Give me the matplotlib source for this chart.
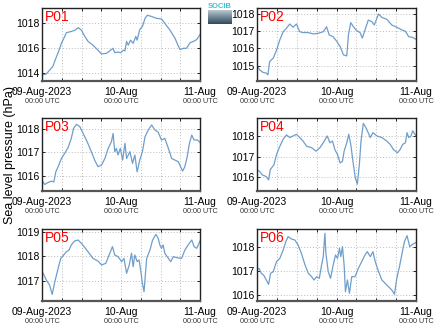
import numpy as np
import pandas as pd
import matplotlib
matplotlib.use("Agg")
import matplotlib.pyplot as plt
import matplotlib.dates as mdates

plt.rcParams['font.family'] = ['Liberation Sans', 'DejaVu Sans']

start = pd.Timestamp("2023-08-09 00:00")
end = pd.Timestamp("2023-08-11 00:00")

names = ["P01", "P02", "P03", "P04", "P05", "P06"]

p01_h = [0, 1.3, 2.3, 3.3, 4.2, 4.9, 5.9, 6.9, 7.4, 8.9, 10.0, 11.0, 12.0, 13.0, 14.0, 15.5, 17.0, 18.1, 19.6, 20.6,
         21.6, 22.1, 23.1, 23.9, 24.7, 25.2, 25.7, 26.2, 26.9, 27.7, 28.5, 28.9, 29.7, 30.5, 31.3, 32.0, 33.3, 34.8,
         36.3, 37.3, 38.9, 40.4, 41.9, 42.9, 43.9, 45.0, 46.0, 47.0, 48.0]
p01_v = [1013.81, 1013.89, 1014.2, 1014.5, 1015.15, 1015.6, 1016.35, 1016.9, 1017.2, 1017.3, 1017.4, 1017.6, 1017.4,
         1016.9, 1016.5, 1016.2, 1015.8, 1015.5, 1015.55, 1015.75, 1015.95, 1015.6, 1015.65, 1015.6, 1015.8, 1015.75,
         1016.5, 1016.2, 1016.6, 1016.35, 1016.9, 1016.6, 1017.45, 1017.7, 1018.35, 1018.6, 1018.5, 1018.35, 1018.3,
         1017.95, 1017.4, 1016.75, 1015.85, 1015.95, 1015.95, 1016.4, 1016.5, 1016.65, 1017.05]

p02_h = [0, 0.8, 1.8, 2.8, 3.3, 3.8, 4.9, 5.9, 6.9, 7.9, 8.9, 9.9, 10.9, 11.9, 12.9, 13.9, 15.5, 17.0, 18.5, 20.0,
         21.0, 21.8, 23.0, 24.1, 25.1, 26.1, 27.1, 27.6, 28.3, 29.1, 30.1, 31.1, 31.8, 32.6, 33.6, 34.7, 35.4, 36.7,
         37.7, 39.2, 40.7, 42.2, 43.8, 44.8, 45.8, 46.8, 48.0]
p02_v = [1015.0, 1014.75, 1014.6, 1014.56, 1014.46, 1015.23, 1015.43, 1015.9, 1016.5, 1016.97, 1017.17, 1017.42,
         1017.23, 1017.42, 1016.97, 1016.92, 1016.92, 1016.84, 1016.88, 1016.97, 1017.26, 1016.78, 1016.68, 1016.4,
         1016.1, 1015.62, 1015.56, 1016.78, 1017.5, 1017.26, 1017.03, 1016.92, 1016.6, 1017.07, 1017.65, 1017.55,
         1017.36, 1018.0, 1017.8, 1017.69, 1017.36, 1017.23, 1017.07, 1017.0, 1016.68, 1016.65, 1016.53]

p03_h = [0, 0.8, 1.8, 2.8, 3.6, 4.2, 4.9, 5.9, 6.9, 7.9, 8.9, 9.6, 10.5, 11.5, 12.5, 13.7, 15.0, 16.0, 17.0, 18.1,
         19.1, 20.1, 21.1, 21.6, 22.1, 22.6, 23.1, 23.8, 24.5, 25.2, 25.7, 26.7, 27.5, 28.2, 28.9, 29.7, 30.5, 31.3,
         32.3, 33.3, 34.3, 35.3, 36.3, 37.3, 38.4, 39.4, 40.4, 41.4, 42.1, 42.7, 43.4, 44.1, 44.8, 45.5, 46.2, 47.2,
         48.0]
p03_v = [1015.81, 1015.63, 1015.71, 1015.77, 1015.74, 1016.17, 1016.39, 1016.74, 1016.96, 1017.2, 1017.6, 1018.03,
         1018.2, 1018.1, 1017.81, 1017.46, 1017.03, 1016.67, 1016.39, 1016.46, 1016.74, 1017.17, 1017.46, 1017.81,
         1017.03, 1017.17, 1016.89, 1017.17, 1016.67, 1017.39, 1016.74, 1017.03, 1016.53, 1016.89, 1016.17, 1016.67,
         1017.03, 1017.67, 1017.96, 1018.17, 1017.96, 1017.86, 1017.53, 1017.6, 1017.17, 1016.74, 1016.67, 1016.6,
         1016.39, 1016.2, 1016.39, 1016.81, 1017.39, 1017.74, 1017.53, 1017.53, 1017.43]

p04_h = [0, 0.8, 1.6, 2.8, 3.5, 4.0, 5.1, 5.9, 6.9, 7.9, 8.9, 9.9, 10.9, 11.9, 12.9, 13.9, 15.0, 16.5, 17.8, 19.0,
         20.0, 21.2, 22.0, 22.8, 23.5, 24.3, 25.1, 25.8, 26.3, 27.1, 27.7, 28.3, 29.1, 29.7, 30.3, 30.9, 31.4, 32.1,
         33.1, 34.2, 35.0, 36.2, 37.7, 39.2, 40.2, 41.2, 42.4, 43.2, 44.0, 44.8, 45.3, 45.8, 46.5, 47.0, 48.0]
p04_v = [1016.36, 1016.28, 1016.11, 1016.03, 1015.87, 1016.36, 1016.6, 1017.1, 1017.5, 1017.84, 1018.05, 1017.92,
         1018.0, 1018.08, 1017.92, 1017.75, 1017.5, 1017.43, 1017.26, 1017.43, 1017.67, 1018.0, 1017.67, 1017.75,
         1017.34, 1017.1, 1016.69, 1016.77, 1017.26, 1017.67, 1018.08, 1017.59, 1016.61, 1015.95, 1015.66, 1016.61,
         1017.75, 1018.61, 1018.33, 1017.92, 1018.16, 1018.0, 1017.92, 1017.75, 1017.59, 1017.34, 1017.18, 1017.34,
         1017.59, 1017.67, 1018.16, 1017.92, 1018.0, 1018.25, 1018.0]

p05_h = [0, 0.6, 1.3, 2.3, 3.1, 3.9, 4.9, 5.7, 6.6, 7.4, 8.2, 8.9, 9.9, 11.0, 12.0, 13.0, 14.0, 15.5, 17.0, 18.1,
         19.4, 20.4, 21.4, 22.1, 23.1, 24.2, 24.9, 25.7, 26.5, 27.2, 27.7, 28.2, 28.9, 29.5, 30.1, 30.5, 31.0, 31.4,
         31.8, 32.8, 33.6, 34.6, 35.3, 35.8, 36.3, 36.8, 37.3, 38.4, 39.1, 39.9, 40.9, 42.4, 43.4, 44.4, 45.5, 46.2,
         47.0, 48.0]
p05_v = [1017.37, 1017.23, 1017.03, 1016.82, 1016.44, 1016.96, 1017.5, 1017.91, 1018.05, 1018.18, 1018.25, 1018.46,
         1018.62, 1018.66, 1018.52, 1018.35, 1018.18, 1017.91, 1017.8, 1017.64, 1017.71, 1018.05, 1018.39, 1018.05,
         1017.98, 1017.78, 1017.91, 1017.3, 1017.64, 1018.12, 1017.57, 1018.05, 1017.78, 1017.84, 1017.3, 1016.89,
         1016.55, 1017.23, 1017.91, 1018.25, 1018.66, 1018.89, 1018.73, 1018.46, 1018.32, 1018.46, 1018.12, 1017.91,
         1017.78, 1017.98, 1017.94, 1017.91, 1018.25, 1018.46, 1018.66, 1018.39, 1018.32, 1018.62]

p06_h = [0, 0.6, 1.3, 2.0, 2.8, 3.5, 4.1, 4.9, 5.9, 6.9, 7.9, 8.7, 9.4, 10.4, 11.4, 12.4, 13.4, 14.5, 15.5, 16.5,
         17.2, 18.0, 18.8, 19.5, 20.0, 20.5, 20.8, 21.5, 22.2, 23.0, 23.7, 24.3, 24.9, 25.3, 25.8, 26.3, 26.7, 27.3,
         27.9, 28.6, 29.6, 30.6, 31.6, 32.6, 33.3, 34.2, 35.0, 35.7, 36.7, 37.7, 38.7, 39.7, 40.7, 41.5, 42.2, 43.0,
         43.7, 44.5, 45.3, 46.1, 47.0, 48.0]
p06_v = [1017.05, 1017.12, 1016.91, 1016.84, 1016.63, 1016.45, 1016.91, 1016.98, 1017.4, 1017.54, 1017.89, 1018.24,
         1018.45, 1018.35, 1018.31, 1018.1, 1017.75, 1017.26, 1016.91, 1016.77, 1016.63, 1016.77, 1016.7, 1017.26,
         1017.61, 1018.59, 1017.75, 1016.98, 1016.7, 1017.26, 1017.68, 1017.54, 1017.96, 1017.61, 1018.03, 1017.26,
         1016.14, 1016.63, 1016.07, 1016.77, 1016.77, 1017.12, 1017.4, 1017.68, 1017.82, 1017.61, 1017.82, 1017.4,
         1016.98, 1016.63, 1016.49, 1016.35, 1016.21, 1016.03, 1016.7, 1017.19, 1017.68, 1018.24, 1018.49, 1018.03,
         1018.13, 1018.21]

hours = [p01_h, p02_h, p03_h, p04_h, p05_h, p06_h]
values = [p01_v, p02_v, p03_v, p04_v, p05_v, p06_v]
ylims = [(1013.33, 1019.18), (1014.1, 1018.35), (1015.35, 1018.47),
         (1015.33, 1018.87), (1016.17, 1019.11), (1015.75, 1018.77)]
ytick_step = [2, 1, 1, 1, 1, 1]

xtick_dates = [start, start + pd.Timedelta(hours=24), end]
xtick_labels = ["09-Aug-2023", "10-Aug", "11-Aug"]
xtick_sub = "00:00 UTC"

W, H = 434, 327
fig = plt.figure(figsize=(W / 100, H / 100), dpi=100)

lefts = [42, 257]
widths = [158, 159]
tops = [8, 118, 229]
heights = [73, 73, 72]

line_color = "#6f9ecb"

for i in range(6):
    r, c = divmod(i, 2)
    l = lefts[c] / W
    w = widths[c] / W
    b = 1 - (tops[r] + heights[r]) / H
    h = heights[r] / H
    ax = fig.add_axes([l, b, w, h])
    t = [start + pd.Timedelta(hours=x) for x in hours[i]]
    ax.plot(t, values[i], color=line_color, lw=0.9)
    ax.set_xlim(start, end)
    ax.set_ylim(*ylims[i])
    lo, hi = ylims[i]
    st = ytick_step[i]
    yt = np.arange(np.ceil(lo / st) * st, hi, st)
    ax.set_yticks(yt)
    ax.set_yticklabels([f"{int(v)}" for v in yt], fontsize=7.5)
    ax.set_xticks(xtick_dates)
    ax.set_xticklabels(xtick_labels, fontsize=7.5)
    ax.xaxis.set_minor_locator(mdates.HourLocator(byhour=[6, 12, 18]))
    ax.grid(True, which="both", axis="x", linestyle=(0, (1, 2)), color="#bdbdbd", lw=0.7)
    ax.grid(True, which="major", axis="y", linestyle=(0, (1, 2)), color="#bdbdbd", lw=0.7)
    ax.tick_params(axis="both", which="both", direction="in", length=2.5, width=0.6,
                   top=True, right=True, pad=2)
    ax.tick_params(axis="x", which="major", pad=4)
    for s in ax.spines.values():
        s.set_linewidth(1.0)
        s.set_color("#222222")
    ax.spines["bottom"].set_linewidth(1.6)
    ax.spines["bottom"].set_color("#555555")
    for d in xtick_dates:
        ax.text(d, -0.23, xtick_sub, transform=ax.get_xaxis_transform(),
                ha="center", va="top", fontsize=5.2, color="#333333")
    ax.text(0.02, 0.97, names[i], transform=ax.transAxes, ha="left", va="top",
            fontsize=10, color="#ff0000")

fig.text(10 / W, 1 - 155 / H, "Sea level pressure (hPa)", rotation=90,
         ha="center", va="center", fontsize=9)

# logo
lax = fig.add_axes([208 / W, 1 - 24 / H, 24 / W, 14 / H])
grad = np.linspace(0, 1, 50).reshape(-1, 1)
lax.imshow(grad, aspect="auto", cmap=matplotlib.colors.LinearSegmentedColormap.from_list(
    "lg", ["#b8c8d0", "#6f8896", "#34495a"]))
lax.axis("off")
fig.text(220 / W, 1 - 7 / H, "SOCIB", ha="center", va="center", fontsize=5.5,
         color="#3ec0d8", fontweight="bold")

fig.savefig("out.png", dpi=100)
